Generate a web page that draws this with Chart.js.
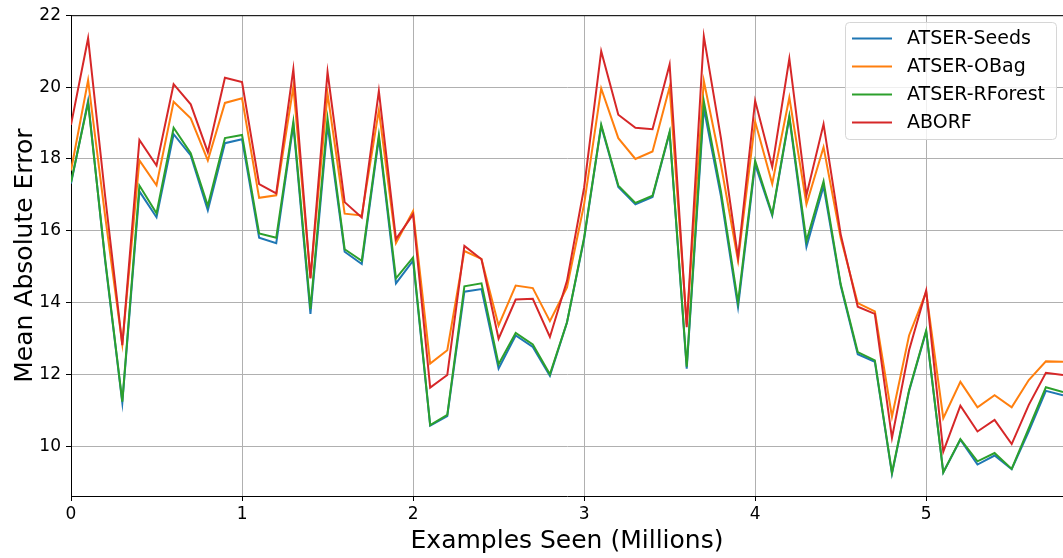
<!DOCTYPE html>
<html>
<head>
<meta charset="utf-8">
<script src="https://cdn.jsdelivr.net/npm/chart.js@4/dist/chart.umd.min.js"></script>
<style>
  html, body { margin: 0; padding: 0; background: #fff; }
  #wrap { width: 1063px; height: 558px; }
</style>
</head>
<body>
<div id="wrap"><canvas id="c" width="1063" height="558"></canvas></div>
<script>
// Examples seen, in millions
const examplesSeen = [0, 0.1, 0.2, 0.3, 0.4, 0.5, 0.6, 0.7, 0.8, 0.9,
  1.0, 1.1, 1.2, 1.3, 1.4, 1.5, 1.6, 1.7, 1.8, 1.9,
  2.0, 2.1, 2.2, 2.3, 2.4, 2.5, 2.6, 2.7, 2.8, 2.9,
  3.0, 3.1, 3.2, 3.3, 3.4, 3.5, 3.6, 3.7, 3.8, 3.9,
  4.0, 4.1, 4.2, 4.3, 4.4, 4.5, 4.6, 4.7, 4.8, 4.9,
  5.0, 5.1, 5.2, 5.3, 5.4, 5.5, 5.6, 5.7, 5.8];

const seriesNames = ['ATSER-Seeds', 'ATSER-OBag', 'ATSER-RForest', 'ABORF'];

const atserSeeds = [17.32, 19.62, 15.15, 11.22, 17.10, 16.38, 18.69, 18.10, 16.57, 18.44,
  18.55, 15.81, 15.66, 18.95, 13.69, 18.95, 15.42, 15.08, 18.58, 14.54,
  15.17, 10.58, 10.85, 14.31, 14.38, 12.17, 13.09, 12.77, 11.97, 13.45,
  15.77, 18.92, 17.22, 16.74, 16.94, 18.73, 12.17, 19.41, 16.97, 13.88,
  17.85, 16.43, 19.15, 15.56, 17.24, 14.48, 12.57, 12.36, 9.24, 11.54,
  13.20, 9.28, 10.19, 9.50, 9.75, 9.37, 10.42, 11.55, 11.43];

const atserOBag = [17.68, 20.19, 16.40, 12.85, 17.96, 17.27, 19.59, 19.13, 17.96, 19.56,
  19.69, 16.92, 16.99, 20.01, 14.70, 19.82, 16.48, 16.43, 19.36, 15.66,
  16.55, 12.31, 12.68, 15.44, 15.22, 13.37, 14.48, 14.41, 13.49, 14.43,
  16.74, 19.96, 18.58, 18.00, 18.21, 20.00, 13.40, 20.17, 17.84, 15.17,
  19.04, 17.31, 19.71, 16.74, 18.33, 15.81, 13.99, 13.76, 10.83, 13.09,
  14.30, 10.79, 11.80, 11.09, 11.43, 11.09, 11.85, 12.37, 12.36];

const atserRForest = [17.35, 19.56, 15.20, 11.25, 17.26, 16.49, 18.87, 18.16, 16.70, 18.58,
  18.67, 15.93, 15.81, 19.04, 13.83, 19.13, 15.49, 15.17, 18.67, 14.68,
  15.26, 10.60, 10.88, 14.46, 14.54, 12.29, 13.16, 12.84, 12.01, 13.46,
  15.81, 18.95, 17.26, 16.78, 16.98, 18.76, 12.22, 19.61, 17.10, 14.01,
  17.95, 16.46, 19.20, 15.72, 17.38, 14.52, 12.63, 12.40, 9.27, 11.57,
  13.23, 9.28, 10.21, 9.59, 9.82, 9.38, 10.51, 11.65, 11.52];

const aborf = [18.95, 21.36, 16.95, 12.82, 18.53, 17.82, 20.08, 19.52, 18.19, 20.26,
  20.14, 17.30, 17.04, 20.50, 14.68, 20.42, 16.80, 16.37, 19.89, 15.77,
  16.46, 11.64, 11.99, 15.58, 15.21, 13.00, 14.09, 14.11, 13.05, 14.61,
  17.20, 21.00, 19.23, 18.87, 18.83, 20.63, 13.32, 21.41, 18.58, 15.26,
  19.62, 17.78, 20.79, 16.99, 18.97, 15.91, 13.89, 13.69, 10.24, 12.68,
  14.34, 9.86, 11.14, 10.42, 10.74, 10.07, 11.16, 12.05, 11.99];

const xTicks = [0, 1, 2, 3, 4, 5];
const yTicks = [10, 12, 14, 16, 18, 20, 22];

const palette = ['#1f77b4', '#ff7f0e', '#2ca02c', '#d62728'];
const FONT = "'DejaVu Sans', sans-serif";

function toPoints(values) {
  return values.map((v, i) => ({ x: examplesSeen[i], y: v }));
}

const allSeries = [atserSeeds, atserOBag, atserRForest, aborf];
const datasets = allSeries.map((vals, k) => ({
  label: seriesNames[k],
  data: toPoints(vals),
  borderColor: palette[k],
  backgroundColor: palette[k],
  borderWidth: 2,
  pointRadius: 0,
  tension: 0,
  fill: false,
  order: allSeries.length - k   // later series drawn on top
}));

// Top spine of the plotting frame
const framePlugin = {
  id: 'frame',
  afterDraw(chart) {
    const { ctx, chartArea: a } = chart;
    ctx.save();
    ctx.strokeStyle = '#000';
    ctx.lineWidth = 1;
    ctx.beginPath();
    ctx.moveTo(a.left, a.top + 0.5);
    ctx.lineTo(a.right, a.top + 0.5);
    ctx.stroke();
    ctx.restore();
  }
};

// Legend box in the upper right corner
const legendBoxPlugin = {
  id: 'legendBox',
  afterDraw(chart) {
    const { ctx } = chart;
    const x0 = 845, y0 = 22, w = 211, h = 117, r = 4;
    ctx.save();
    ctx.fillStyle = 'rgba(255,255,255,0.8)';
    ctx.strokeStyle = '#d6d6d6';
    ctx.lineWidth = 1;
    ctx.beginPath();
    ctx.moveTo(x0 + r + 0.5, y0 + 0.5);
    ctx.arcTo(x0 + w + 0.5, y0 + 0.5, x0 + w + 0.5, y0 + h + 0.5, r);
    ctx.arcTo(x0 + w + 0.5, y0 + h + 0.5, x0 + 0.5, y0 + h + 0.5, r);
    ctx.arcTo(x0 + 0.5, y0 + h + 0.5, x0 + 0.5, y0 + 0.5, r);
    ctx.arcTo(x0 + 0.5, y0 + 0.5, x0 + w + 0.5, y0 + 0.5, r);
    ctx.closePath();
    ctx.fill();
    ctx.stroke();

    ctx.font = '19px ' + FONT;
    ctx.textBaseline = 'middle';
    ctx.textAlign = 'left';
    chart.data.datasets.forEach((ds, i) => {
      const y = 38.5 + i * 28;
      ctx.strokeStyle = ds.borderColor;
      ctx.lineWidth = 2;
      ctx.beginPath();
      ctx.moveTo(852, y);
      ctx.lineTo(892, y);
      ctx.stroke();
      ctx.fillStyle = '#000';
      ctx.fillText(ds.label, 907, y + 1);
    });
    ctx.restore();
  }
};

new Chart(document.getElementById('c'), {
  type: 'line',
  data: { datasets },
  plugins: [framePlugin, legendBoxPlugin],
  options: {
    responsive: false,
    animation: false,
    devicePixelRatio: 1,
    layout: { padding: { top: 13, right: 0, left: 0, bottom: 0 } },
    plugins: {
      legend: { display: false },
      tooltip: { enabled: false }
    },
    scales: {
      x: {
        type: 'linear',
        min: 0,
        max: 5.8,
        afterBuildTicks(scale) { scale.ticks = xTicks.map(v => ({ value: v })); },
        afterFit(scale) { scale.height = 62; },
        ticks: {
          color: '#000',
          font: { family: FONT, size: 17 },
          padding: 3,
          maxRotation: 0,
          callback: v => String(v)
        },
        grid: {
          color: '#b0b0b0',
          lineWidth: 1,
          tickColor: '#000',
          tickLength: 5,
          tickWidth: 1
        },
        border: { color: '#000', width: 1 },
        title: {
          display: true,
          text: 'Examples Seen (Millions)',
          color: '#000',
          font: { family: FONT, size: 25 },
          padding: { top: 0, bottom: 2 }
        }
      },
      y: {
        type: 'linear',
        min: 8.625,
        max: 22,
        afterBuildTicks(scale) { scale.ticks = yTicks.map(v => ({ value: v })); },
        afterFit(scale) { scale.width = 71; },
        ticks: {
          color: '#000',
          font: { family: FONT, size: 17 },
          padding: 5,
          callback: v => String(v)
        },
        grid: {
          color: '#b0b0b0',
          lineWidth: 1,
          tickColor: '#000',
          tickLength: 5,
          tickWidth: 1
        },
        border: { color: '#000', width: 1 },
        title: {
          display: true,
          text: 'Mean Absolute Error',
          color: '#000',
          font: { family: FONT, size: 25 },
          padding: { top: 10, bottom: 0 }
        }
      }
    }
  }
});
</script>
</body>
</html>
